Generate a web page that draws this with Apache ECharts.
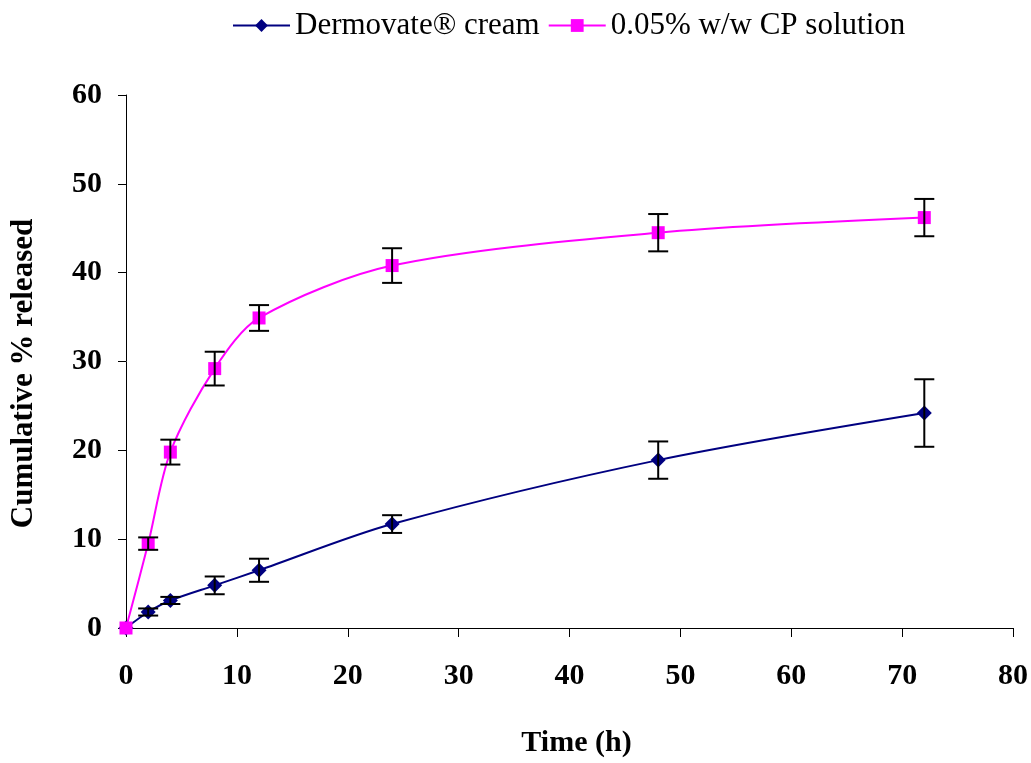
<!DOCTYPE html>
<html>
<head>
<meta charset="utf-8">
<script src="https://cdn.jsdelivr.net/npm/echarts@6/dist/echarts.min.js"></script>
<style>
html,body{margin:0;padding:0;background:#fff;}
#main{width:1031px;height:763px;}
</style>
</head>
<body>
<div id="main"></div>
<script>
const times = [0, 2, 4, 8, 12, 24, 48, 72];
const dermovate = [0, 1.8, 3.1, 4.8, 6.5, 11.7, 18.9, 24.2];
const dermovateErr = [0, 0.4, 0.4, 1.0, 1.3, 1.0, 2.1, 3.8];
const cpSolution = [0, 9.5, 19.8, 29.2, 34.9, 40.8, 44.5, 46.2];
const cpErr = [0, 0.7, 1.4, 1.9, 1.45, 1.95, 2.1, 2.1];
const xTicks = [0, 10, 20, 30, 40, 50, 60, 70, 80];
const yTicks = [0, 10, 20, 30, 40, 50, 60];

const font = '"Liberation Serif", "Times New Roman", serif';

function pairs(vals) { return times.map((t, i) => [t, vals[i]]); }
function errData(vals, errs) {
  return times.map((t, i) => [t, vals[i] - errs[i], vals[i] + errs[i]]).filter((d, i) => errs[i] > 0);
}
function errRender(params, api) {
  const lo = api.coord([api.value(0), api.value(1)]);
  const hi = api.coord([api.value(0), api.value(2)]);
  const hw = 10;
  const style = { stroke: '#000', lineWidth: 2 };
  return {
    type: 'group',
    children: [
      { type: 'line', shape: { x1: lo[0], y1: lo[1], x2: hi[0], y2: hi[1] }, style },
      { type: 'line', shape: { x1: lo[0] - hw, y1: lo[1], x2: lo[0] + hw, y2: lo[1] }, style },
      { type: 'line', shape: { x1: hi[0] - hw, y1: hi[1], x2: hi[0] + hw, y2: hi[1] }, style }
    ]
  };
}

const chart = echarts.init(document.getElementById('main'));
chart.setOption({
  animation: false,
  backgroundColor: '#fff',
  grid: { left: 123, right: 18, top: 95, bottom: 133 },
  legend: {
    top: 5,
    left: 227,
    itemWidth: 57,
    itemHeight: 16,
    itemGap: 8,
    textStyle: { fontFamily: font, fontSize: 31, color: '#000' },
    data: ['Dermovate® cream', '0.05% w/w CP solution']
  },
  xAxis: {
    type: 'value',
    min: 0, max: 80, interval: 10,
    name: 'Time (h)',
    nameLocation: 'middle',
    nameGap: 100,
    nameTextStyle: { fontFamily: font, fontSize: 30, fontWeight: 'bold', color: '#000', padding: [0, 0, 0, 14] },
    axisLine: { onZero: false, lineStyle: { color: '#000', width: 1 } },
    axisTick: { show: true, length: 9, inside: false, lineStyle: { color: '#000' } },
    axisLabel: { margin: 33, fontFamily: font, fontSize: 30, fontWeight: 'bold', color: '#000',
      formatter: v => xTicks.includes(v) ? String(v) : '' },
    splitLine: { show: false }
  },
  yAxis: {
    type: 'value',
    min: 0, max: 60, interval: 10,
    name: 'Cumulative % released',
    nameLocation: 'middle',
    nameGap: 87,
    nameRotate: 90,
    nameTextStyle: { fontFamily: font, fontSize: 31, fontWeight: 'bold', color: '#000', padding: [0, 24, 0, 0] },
    axisLine: { show: true, lineStyle: { color: '#000', width: 1 } },
    axisTick: { show: true, length: 8, inside: false, lineStyle: { color: '#000' } },
    axisLabel: { margin: 24, fontFamily: font, fontSize: 30, fontWeight: 'bold', color: '#000',
      formatter: v => yTicks.includes(v) ? String(v) : '' },
    splitLine: { show: false }
  },
  series: [
    {
      name: 'Dermovate® cream',
      type: 'line',
      smooth: 0.3,
      data: pairs(dermovate),
      symbol: 'diamond',
      symbolSize: 15,
      lineStyle: { color: '#000080', width: 2 },
      itemStyle: { color: '#000080' },
      z: 3
    },
    {
      name: '0.05% w/w CP solution',
      type: 'line',
      smooth: 0.3,
      data: pairs(cpSolution),
      symbol: 'rect',
      symbolSize: 13,
      lineStyle: { color: '#FF00FF', width: 2 },
      itemStyle: { color: '#FF00FF' },
      z: 3
    },
    {
      type: 'custom',
      renderItem: errRender,
      data: errData(dermovate, dermovateErr),
      encode: { x: 0, y: [1, 2] },
      z: 4,
      silent: true
    },
    {
      type: 'custom',
      renderItem: errRender,
      data: errData(cpSolution, cpErr),
      encode: { x: 0, y: [1, 2] },
      z: 4,
      silent: true
    }
  ]
});
</script>
</body>
</html>
